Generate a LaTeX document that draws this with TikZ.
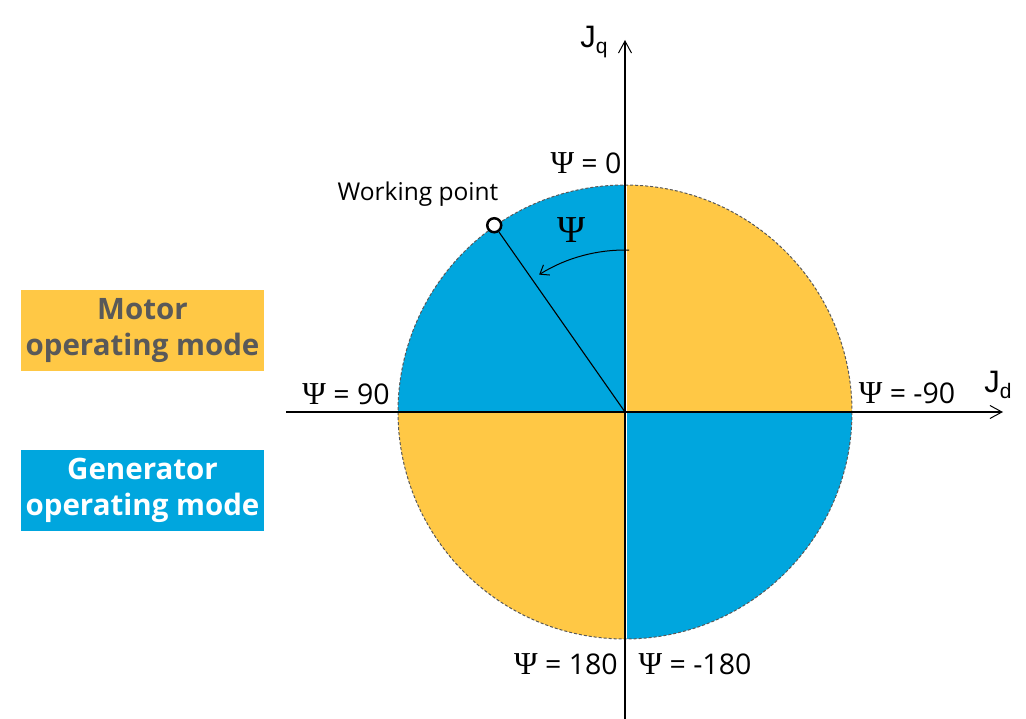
\documentclass[tikz,border=0pt]{standalone}
\usepackage{fontspec}
\setmainfont{Open Sans}
\newfontfamily\psifont[Scale=1.12]{Liberation Serif}
\newfontfamily\arialfont{Liberation Sans}
\usetikzlibrary{arrows.meta}
\definecolor{myyellow}{HTML}{FFC845}
\definecolor{myblue}{HTML}{00A6DE}
\definecolor{mygray}{HTML}{595959}
\newcommand{\Ps}{{\psifont Ψ}}
\begin{document}
\begin{tikzpicture}[x=1pt,y=-1pt,
  lab/.style={inner sep=0pt, font=\fontsize{28.5}{32}\selectfont},
  jlab/.style={inner sep=0pt, font=\arialfont\fontsize{31}{32}\selectfont},
  modebox/.style={minimum width=243pt, minimum height=81pt, inner sep=0pt, align=center,
    font=\fontsize{29.5}{36}\selectfont\bfseries},
  axisline/.style={line width=1.1pt, -{Straight Barb[length=12pt,width=13pt,line width=1pt]}}]
\useasboundingbox (0,0) rectangle (1026,719);
\coordinate (C) at (625,412);
% quadrants
\begin{scope}
\clip (C) circle[radius=227];
\fill[myblue] (C) rectangle ++(-230,-230);
\fill[myyellow] (C) rectangle ++(230,-230);
\fill[myyellow] (C) rectangle ++(-230,230);
\fill[myblue] (C) rectangle ++(230,230);
\draw[white, line width=3pt] ([yshift=-230pt]C) -- ([yshift=230pt]C);
\draw[white, line width=2pt] ([xshift=-230pt]C) -- ([xshift=230pt]C);
\end{scope}
\draw[black!65, line width=1pt, dash pattern=on 3pt off 2pt] (C) circle[radius=227];
% axes
\coordinate (xl) at (286,412);
\coordinate (xr) at (1003,412);
\coordinate (yb) at (625,719);
\coordinate (yt) at (625,40);
\draw[axisline] (xl) -- (xr);
\draw[axisline] (yb) -- (yt);
% working point
\node[circle, draw, fill=white, line width=2.5pt, minimum size=14pt, inner sep=0pt] (wp) at ([shift={(-125:228)}]C) {};
\draw[line width=1.1pt] (C) -- (wp);
% angle arc
\coordinate (arcstart) at ([shift={(-88.5:162)}]C);
\draw[line width=1pt, -{Straight Barb[length=8pt,width=12pt,line width=1pt]}] (arcstart) arc[start angle=-88.5, end angle=-122, radius=162];
% labels
\node[lab] (p0) at (586,163) {\Ps{} = 0};
\node[lab] (p90) at (346,394) {\Ps{} = 90};
\node[lab] (pm90) at (907,393) {\Ps{} = -90};
\node[lab] (p180) at (566,664) {\Ps{} = 180};
\node[lab] (pm180) at (695,664) {\Ps{} = -180};
\node[inner sep=0pt, font=\fontsize{34}{40}\selectfont] (psi) at (572,230) {\Ps};
\node[inner sep=0pt, font=\fontsize{24.5}{28}\selectfont] (wptext) at (418,194) {Working point};
\node[jlab] (jq) at (594,42) {J\raisebox{-6pt}{\fontsize{21}{22}\selectfont q}};
\node[jlab] (jd) at (998,385) {J\raisebox{-6pt}{\fontsize{21}{22}\selectfont d}};
% mode boxes
\node[modebox, fill=myyellow, text=mygray] (motor) at (142.5,330.5) {Motor\\operating mode};
\node[modebox, fill=myblue, text=white] (gen) at (142.5,490) {Generator\\operating mode};
\end{tikzpicture}
\end{document}
